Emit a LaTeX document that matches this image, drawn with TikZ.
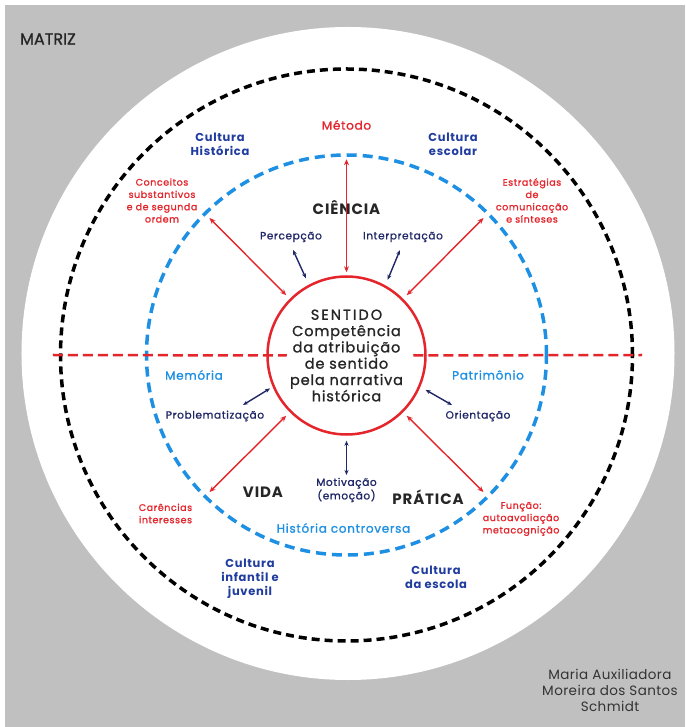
\documentclass[tikz,border=0pt]{standalone}
\usepackage{fontspec}
\setmainfont{Poppins}[UprightFeatures={FakeBold=1.2}, LetterSpace=6]
\newfontfamily\authorfont{Poppins}[LetterSpace=3]
\usetikzlibrary{arrows.meta}

\definecolor{matred}{HTML}{E5252C}
\definecolor{matsky}{HTML}{1E90E4}
\definecolor{matblue}{HTML}{1F3C9E}
\definecolor{matnavy}{HTML}{1F2767}
\definecolor{matgray}{HTML}{C0C0C0}

\tikzset{
	redlbl/.style={text=matred, align=center, inner sep=0pt, font=\fontsize{9.5}{12.3}\selectfont},
	navylbl/.style={text=matnavy, align=center, inner sep=0pt, font=\fontsize{10.5}{10.5}\selectfont},
	culturalbl/.style={text=matblue, align=center, inner sep=0pt, font=\bfseries\fontsize{11.5}{13.8}\selectfont},
	histlbl/.style={text=matsky, inner sep=0pt, font=\fontsize{12}{14}\selectfont},
	domainlbl/.style={text=black!85, inner sep=0pt, font=\bfseries\fontsize{15}{16}\selectfont},
	redarrow/.style={matred, line width=1.4pt, {Stealth[length=6pt,width=5pt]}-{Stealth[length=6pt,width=5pt]}},
	navyarrow/.style={matnavy, line width=1.4pt, {Stealth[length=5pt,width=4pt]}-{Stealth[length=5pt,width=4pt]}},
	reddash/.style={matred, line width=2.5pt, dash pattern=on 10pt off 5pt},
}

\begin{document}
\begin{tikzpicture}[x=1pt,y=1pt]
	\useasboundingbox (-346.5,-372) rectangle (338.5,355);
	\fill[matgray] (-341.5,-372) rectangle (338.5,350);
	\fill[white] (1.5,1.5) circle (326.5);
	
	\draw[black, line width=3.5pt, dash pattern=on 8pt off 5pt] (0,0) circle (286);
	\node[circle, draw=matsky, line width=3.5pt, dash pattern=on 10pt off 6pt, minimum size=400pt, inner sep=0pt] (hist) at (0,0) {};
	
	\node[circle, draw=matred, line width=2.5pt, fill=white, minimum size=158pt, inner sep=0pt, align=center, text=black!85, font=\fontsize{14.5}{16.3}\selectfont] (sentido) at (0,-0.5) {{\addfontfeature{LetterSpace=14}SENTIDO}\\Competência\\da atribuição\\de sentido\\pela narrativa\\histórica};
	
	\coordinate (lineW) at (-293.5,0);
	\coordinate (lineE) at (295.5,0);
	\draw[reddash] (lineW) -- ([xshift=20.5pt]sentido.west);
	\draw[reddash] ([xshift=-13.5pt]sentido.east) -- (lineE);
	
	\node[anchor=west, text=black!85, inner sep=0pt, font=\fontsize{16}{16}\selectfont\addfontfeature{LetterSpace=0}] (matriz) at (-326.5,316) {MATRIZ};
	
	\node[redlbl, font=\fontsize{12}{14}\selectfont] (metodo) at (0,230) {Método};
	\node[culturalbl] (culthist) at (-126.5,211) {Cultura\\Histórica};
	\node[culturalbl] (cultesc) at (106.5,211) {Cultura\\escolar};
	\node[redlbl] (conceitos) at (-184.5,154.5) {Conceitos\\substantivos\\e de segunda\\ordem};
	\node[redlbl] (estrategias) at (185.5,154.5) {Estratégias\\de\\comunicação\\e sínteses};
	\node[domainlbl] (ciencia) at (0,148) {CIÊNCIA};
	\node[navylbl] (percepcao) at (-55.5,118) {Percepção};
	\node[navylbl] (interpret) at (56.5,118) {Interpretação};
	
	\node[histlbl] (memoria) at (-152.5,-20) {Memória};
	\node[histlbl] (patrimonio) at (141.5,-20) {Patrimônio};
	\node[navylbl] (problem) at (-131.5,-61) {Problematização};
	\node[navylbl] (orient) at (131.5,-61) {Orientação};
	
	\node[navylbl] (motivacao) at (0,-135) {Motivação\\(emoção)};
	\node[domainlbl] (vida) at (-83.5,-137) {VIDA};
	\node[domainlbl] (pratica) at (81.5,-142) {PRÁTICA};
	\node[histlbl] (controversa) at (-3,-173) {História controversa};
	\node[redlbl] (carencias) at (-181,-158.5) {Carências\\interesses};
	\node[redlbl] (funcao) at (174.5,-164) {Função:\\autoavaliação\\metacognição};
	\node[culturalbl] (cultinf) at (-96.5,-223.5) {Cultura\\infantil e\\juvenil};
	\node[culturalbl] (cultda) at (89.5,-222.5) {Cultura\\da escola};
	
	\node[align=center, text=black!80, inner sep=0pt, font=\authorfont\fontsize{13.5}{16}\selectfont] (autora) at (263.5,-335) {Maria Auxiliadora\\Moreira dos Santos\\Schmidt};
	
	\draw[redarrow, shorten <=3pt, shorten >=6pt] (sentido.90) -- (hist.90);
	\draw[redarrow, shorten <=5pt, shorten >=8pt] (sentido.135) -- (hist.135);
	\draw[redarrow, shorten <=5pt, shorten >=8pt] (sentido.45) -- (hist.45);
	\draw[redarrow, shorten <=5pt, shorten >=8pt] (sentido.225) -- (hist.225);
	\draw[redarrow, shorten <=5pt, shorten >=8pt] (sentido.315) -- (hist.315);
	
	\coordinate (percA) at (-53.5,105);
	\coordinate (interA) at (53.5,105);
	\coordinate (problA) at (-103.5,-50);
	\coordinate (orientA) at (105.5,-50);
	\coordinate (motivA) at (0,-120);
	\draw[navyarrow, shorten >=7pt] (percA) -- (sentido.118);
	\draw[navyarrow, shorten >=6pt] (interA) -- (sentido.61);
	\draw[navyarrow, shorten >=3pt] (problA) -- (sentido.203);
	\draw[navyarrow, shorten >=6pt] (orientA) -- (sentido.337);
	\draw[navyarrow, shorten >=5pt] (motivA) -- (sentido.270);
	
\end{tikzpicture}
\end{document}
